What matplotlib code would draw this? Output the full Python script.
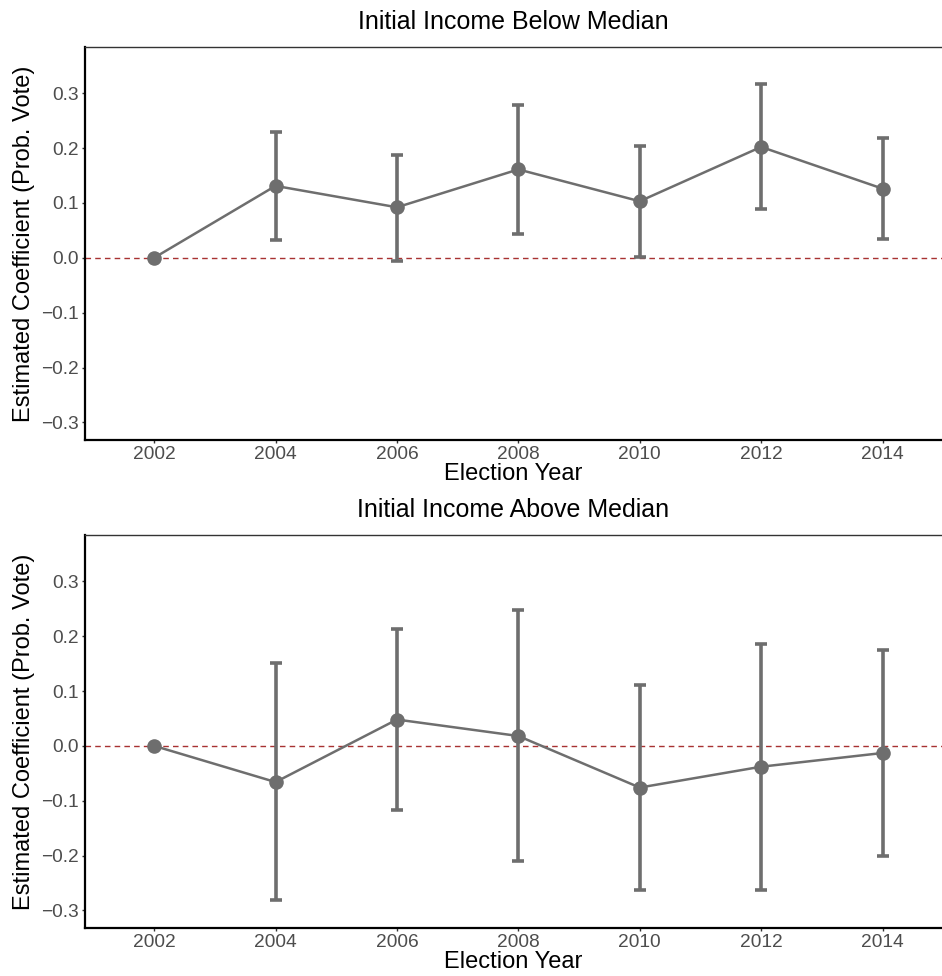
import matplotlib
matplotlib.use("Agg")
import matplotlib.pyplot as plt

years = [2002, 2004, 2006, 2008, 2010, 2012, 2014]

below_est = [0.0, 0.131, 0.092, 0.161, 0.103, 0.202, 0.126]
below_lo = [None, 0.032, -0.005, 0.043, 0.001, 0.088, 0.034]
below_hi = [None, 0.230, 0.188, 0.279, 0.203, 0.316, 0.219]

above_est = [0.0, -0.066, 0.048, 0.018, -0.076, -0.038, -0.013]
above_lo = [None, -0.281, -0.117, -0.209, -0.262, -0.262, -0.200]
above_hi = [None, 0.151, 0.213, 0.247, 0.111, 0.186, 0.174]

titles = ["Initial Income Below Median", "Initial Income Above Median"]
yticks = [-0.3, -0.2, -0.1, 0.0, 0.1, 0.2, 0.3]
xticks = years

plt.rcParams['font.family'] = ['Liberation Sans', 'DejaVu Sans']

fig = plt.figure(figsize=(9.42, 9.76), dpi=100)
axes_pos = [[0.0902, 0.5492, 0.9098, 0.4026], [0.0902, 0.0492, 0.9098, 0.4024]]
grey = '#6e6e6e'

series = [(below_est, below_lo, below_hi), (above_est, above_lo, above_hi)]
for pos, (est, lo, hi), title in zip(axes_pos, series, titles):
    ax = fig.add_axes(pos)
    ax.axhline(0, color='#a83232', lw=1.0, ls=(0, (4, 3)), zorder=1)
    ex = [y for y, l in zip(years, lo) if l is not None]
    el = [e - l for e, l in zip(est, lo) if l is not None]
    eh = [h - e for e, h in zip(est, hi) if h is not None]
    ee = [e for e, l in zip(est, lo) if l is not None]
    ax.errorbar(ex, ee, yerr=[el, eh], fmt='none', ecolor=grey, elinewidth=2.6,
                capsize=4.3, capthick=2.6, zorder=2)
    ax.plot(years, est, color=grey, lw=1.8, marker='o', markersize=10.5,
            markeredgewidth=0, zorder=3)
    ax.set_xlim(2000.86, 2014.98)
    ax.set_ylim(-0.332, 0.384)
    ax.set_xticks(xticks)
    ax.set_xticklabels([str(x) for x in xticks])
    ax.set_yticks(yticks)
    ax.set_yticklabels([f"{t:.1f}".replace('-', '\u2212') for t in yticks])
    ax.tick_params(axis='both', length=2.5, width=1, color='#333333',
                   labelsize=13.8, labelcolor='#4d4d4d', pad=2)
    for s in ['left', 'bottom']:
        ax.spines[s].set_color('black')
        ax.spines[s].set_linewidth(1.6)
    ax.spines['top'].set_color('#333333')
    ax.spines['top'].set_linewidth(1.0)
    ax.spines['right'].set_visible(False)
    ax.set_xlabel("Election Year", fontsize=17, labelpad=0)
    ax.set_ylabel("Estimated Coefficient (Prob. Vote)", fontsize=17, labelpad=4)
    ax.set_title(title, fontsize=18, pad=13)

fig.savefig("out.png", dpi=100)
